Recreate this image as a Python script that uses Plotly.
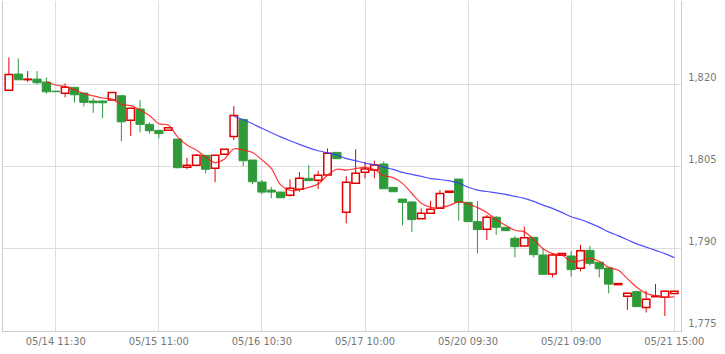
import plotly.graph_objects as go

# ---- data (30-minute candles) ----
opens = [1818.85, 1821.83, 1820.80, 1820.91, 1820.37, 1818.70, 1818.30, 1819.40, 1818.35, 1816.90,
         1816.90, 1817.07, 1817.86, 1813.36, 1815.43, 1812.63, 1811.53, 1811.53, 1809.94, 1804.77,
         1805.13, 1806.96, 1804.58, 1807.14, 1810.43, 1813.54, 1806.10, 1802.07, 1800.60, 1800.24,
         1799.64, 1800.74, 1802.75, 1802.40, 1803.35, 1807.50, 1796.53, 1801.84, 1803.85, 1804.27,
         1805.37, 1801.10, 1798.96, 1798.42, 1795.36, 1796.35, 1797.26, 1800.20, 1802.62, 1798.36,
         1794.83, 1793.43, 1795.63, 1793.80, 1791.78, 1790.37, 1791.96, 1788.72, 1785.25, 1788.70,
         1788.54, 1786.29, 1789.58, 1787.40, 1786.35, 1783.30, 1781.16, 1782.02, 1779.10, 1781.10,
         1781.00, 1781.70]
highs = [1824.88, 1824.70, 1822.38, 1822.38, 1821.23, 1818.70, 1820.13, 1819.40, 1818.35, 1817.50,
         1817.00, 1818.48, 1818.00, 1815.56, 1817.07, 1812.99, 1811.53, 1812.00, 1809.94, 1806.52,
         1807.20, 1806.96, 1806.96, 1808.06, 1815.98, 1813.54, 1806.10, 1802.44, 1801.16, 1800.24,
         1802.57, 1803.90, 1805.18, 1804.14, 1808.24, 1807.50, 1803.17, 1808.06, 1805.79, 1805.97,
         1805.86, 1801.10, 1798.96, 1798.60, 1797.26, 1798.66, 1800.60, 1800.40, 1802.62, 1798.36,
         1798.60, 1796.10, 1795.90, 1793.80, 1792.20, 1793.90, 1791.96, 1790.00, 1789.00, 1789.00,
         1789.50, 1790.60, 1790.40, 1787.40, 1786.35, 1783.50, 1781.71, 1782.20, 1782.20, 1783.42,
         1782.20, 1782.08]
lows = [1818.85, 1820.79, 1820.40, 1819.95, 1818.23, 1818.60, 1817.57, 1816.65, 1815.92, 1814.75,
        1813.73, 1817.07, 1809.52, 1810.49, 1811.17, 1810.93, 1810.07, 1811.53, 1804.60, 1804.41,
        1805.00, 1803.67, 1802.07, 1807.14, 1809.76, 1804.95, 1801.67, 1799.82, 1799.10, 1799.20,
        1799.40, 1800.30, 1802.33, 1800.80, 1803.35, 1806.35, 1794.52, 1801.84, 1802.75, 1802.75,
        1800.85, 1800.30, 1794.17, 1792.90, 1795.36, 1796.35, 1797.26, 1800.20, 1795.00, 1794.80,
        1789.03, 1791.47, 1792.40, 1793.18, 1788.30, 1790.37, 1788.30, 1785.19, 1784.64, 1788.70,
        1784.77, 1785.74, 1786.80, 1784.64, 1781.72, 1783.30, 1778.66, 1779.28, 1778.20, 1781.00,
        1777.56, 1781.70]
closes = [1821.77, 1820.79, 1820.90, 1820.24, 1818.59, 1818.60, 1819.40, 1818.04, 1816.65, 1816.58,
          1816.58, 1818.48, 1813.10, 1815.56, 1812.63, 1811.46, 1810.93, 1812.00, 1804.70, 1805.13,
          1806.96, 1804.41, 1806.96, 1808.06, 1814.27, 1805.97, 1802.13, 1800.24, 1800.24, 1799.20,
          1800.92, 1802.75, 1802.33, 1803.30, 1807.32, 1806.35, 1802.02, 1803.67, 1804.45, 1805.18,
          1800.85, 1800.30, 1798.36, 1795.20, 1796.35, 1797.08, 1800.00, 1800.40, 1798.36, 1794.83,
          1793.37, 1795.63, 1793.80, 1793.18, 1790.25, 1791.90, 1788.78, 1785.19, 1788.72, 1789.00,
          1786.05, 1789.51, 1787.20, 1786.20, 1783.40, 1783.50, 1781.71, 1779.28, 1780.64, 1781.20,
          1782.08, 1782.08]

tick_positions = [5, 16, 27, 38, 49, 60, 71]
tick_labels = ["05/14 11:30", "05/15 11:00", "05/16 10:30", "05/17 10:00",
               "05/20 09:30", "05/21 09:00", "05/21 15:00"]
y_ticks = [1775, 1790, 1805, 1820]
ma_short, ma_long = 5, 25

UP = "#e00000"
DOWN = "#2f9a3a"
FONT = "DejaVu Sans Condensed, DejaVu Sans, sans-serif"

n = len(closes)
xs = list(range(n))
up_idx = [i for i in xs if closes[i] >= opens[i]]
dn_idx = [i for i in xs if closes[i] < opens[i]]


def wick_segments(idx):
    wx, wy = [], []
    for i in idx:
        top = max(opens[i], closes[i])
        bot = min(opens[i], closes[i])
        if highs[i] > top:
            wx += [i, i, None]
            wy += [top, highs[i], None]
        if lows[i] < bot:
            wx += [i, i, None]
            wy += [bot, lows[i], None]
    return wx, wy


def sma(vals, k):
    out = []
    for i in range(len(vals)):
        out.append(None if i < k - 1 else sum(vals[i - k + 1:i + 1]) / k)
    return out


fig = go.Figure()

for idx, col in ((up_idx, UP), (dn_idx, DOWN)):
    wx, wy = wick_segments(idx)
    fig.add_trace(go.Scatter(x=wx, y=wy, mode="lines", line=dict(color=col, width=1),
                             hoverinfo="skip", showlegend=False))

fig.add_trace(go.Bar(
    x=up_idx,
    base=[opens[i] for i in up_idx],
    y=[closes[i] - opens[i] for i in up_idx],
    width=0.8,
    marker=dict(color="white", line=dict(color=UP, width=1.5)),
    showlegend=False))
fig.add_trace(go.Bar(
    x=dn_idx,
    base=[closes[i] for i in dn_idx],
    y=[opens[i] - closes[i] for i in dn_idx],
    width=0.88,
    marker=dict(color=DOWN, line=dict(color=DOWN, width=1)),
    showlegend=False))

fig.add_trace(go.Scatter(x=xs, y=sma(closes, ma_long), mode="lines",
                         line=dict(color="rgba(50,50,255,0.85)", width=1.2, shape="spline"),
                         showlegend=False))
fig.add_trace(go.Scatter(x=xs, y=sma(closes, ma_short), mode="lines",
                         line=dict(color="rgba(255,20,20,0.85)", width=1.2, shape="spline"),
                         showlegend=False))

fig.update_layout(
    width=725, height=354,
    margin=dict(l=3, r=44, t=1, b=23),
    paper_bgcolor="white", plot_bgcolor="white",
    barmode="overlay",
    font=dict(family=FONT, size=11, color="#777777"),
    showlegend=False,
)
fig.update_xaxes(
    range=[-0.63, 71.72],
    tickmode="array", tickvals=tick_positions, ticktext=tick_labels,
    showgrid=True, gridcolor="#dddddd", gridwidth=1,
    showline=True, linecolor="#cccccc", linewidth=1,
    ticks="", zeroline=False,
)
fig.update_yaxes(
    side="right",
    range=[1774.82, 1835.2],
    tickmode="array", tickvals=y_ticks, ticktext=[f"{v:,}" for v in y_ticks],
    showgrid=True, gridcolor="#dddddd", gridwidth=1,
    showline=True, linecolor="#cccccc", linewidth=1, mirror=True,
    ticks="", zeroline=False, ticklabelshift=-7, ticklabelstandoff=4,
)

fig.write_html("out.html")
